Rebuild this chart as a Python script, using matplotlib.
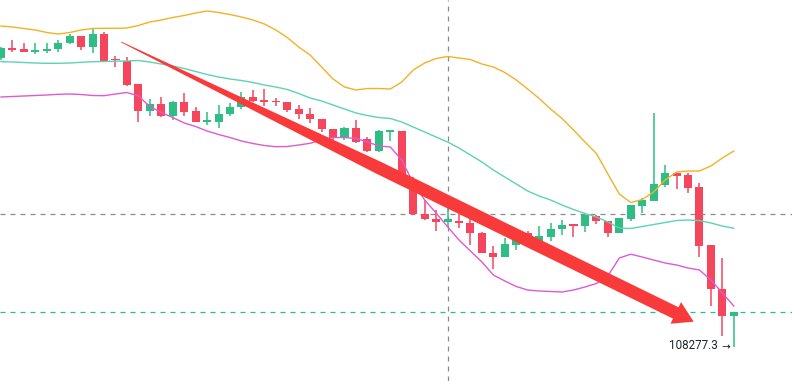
import matplotlib
matplotlib.use('Agg')
import matplotlib.pyplot as plt
from matplotlib.patches import Rectangle, Polygon
from matplotlib.transforms import IdentityTransform
import numpy as np

# OHLC of the visible candles
opens = [111164, 111267, 111257, 111227, 111234, 111251, 111311, 111384, 111277, 111404,
         111154, 111134, 110904, 110637, 110704, 110587, 110721, 110637, 110527, 110527,
         110601, 110671, 110771, 110744, 110737, 110721, 110654, 110604, 110554, 110454,
         110377, 110461, 110351, 110237, 110427, 110437, 109904, 109601, 109554, 109524,
         109537, 109514, 109414, 109214, 109171, 109294, 109414, 109311, 109377, 109451,
         109504, 109484, 109584, 109537, 109417, 109554, 109684, 109737, 109894, 110011,
         109994, 109871, 109294, 108851, 108584]
highs = [111277, 111344, 111311, 111311, 111311, 111344, 111401, 111384, 111454, 111421,
         111187, 111171, 110904, 110754, 110774, 110734, 110811, 110671, 110621, 110694,
         110711, 110821, 110844, 110854, 110761, 110721, 110694, 110661, 110554, 110454,
         110471, 110544, 110374, 110444, 110444, 110437, 109977, 109744, 109644, 109679,
         109639, 109579, 109424, 109284, 109361, 109427, 109437, 109484, 109514, 109544,
         109504, 109594, 109594, 109537, 109561, 109694, 109761, 110617, 110094, 110017,
         110017, 109911, 109294, 109161, 108624]
lows = [111144, 111227, 111221, 111201, 111211, 111221, 111304, 111244, 111211, 111137,
        111071, 110887, 110524, 110584, 110574, 110544, 110587, 110527, 110494, 110461,
        110587, 110654, 110727, 110687, 110687, 110621, 110554, 110517, 110421, 110344,
        110344, 110311, 110224, 110221, 110337, 109884, 109594, 109544, 109434, 109469,
        109461, 109289, 109211, 109056, 109171, 109239, 109344, 109304, 109337, 109394,
        109377, 109427, 109504, 109377, 109417, 109537, 109611, 109737, 109871, 109851,
        109811, 109177, 108684, 108384, 108277.3]
closes = [111264, 111244, 111221, 111244, 111254, 111311, 111384, 111277, 111404, 111137,
          111141, 110894, 110637, 110704, 110587, 110721, 110621, 110527, 110544, 110604,
          110671, 110771, 110737, 110721, 110721, 110644, 110601, 110551, 110451, 110361,
          110461, 110327, 110237, 110437, 110444, 109904, 109601, 109551, 109519, 109549,
          109509, 109411, 109211, 109177, 109302, 109364, 109384, 109384, 109457, 109494,
          109484, 109594, 109529, 109417, 109561, 109694, 109744, 109904, 110017, 109984,
          109861, 109287, 108851, 108587, 108624]

# Bollinger bands
boll_up = [111484, 111474, 111459, 111444, 111419, 111404, 111419, 111444, 111459, 111461,
           111461, 111464, 111489, 111524, 111544, 111569, 111589, 111614, 111634, 111619,
           111599, 111574, 111544, 111504, 111444, 111369, 111274, 111194, 111074, 110954,
           110874, 110844, 110859, 110859, 110854, 110924, 111044, 111114, 111159, 111179,
           111164, 111149, 111104, 111074, 111019, 110944, 110854, 110759, 110654, 110559,
           110444, 110324, 110209, 110004, 109804, 109719, 109749, 109824, 109944, 110024,
           110034, 110034, 110084, 110164, 110234]
boll_mid = [111127, 111124, 111119, 111114, 111111, 111111, 111114, 111121, 111127, 111129,
            111132, 111134, 111139, 111124, 111104, 111084, 111059, 111029, 110999, 110974,
            110954, 110939, 110919, 110894, 110874, 110849, 110809, 110764, 110734, 110694,
            110654, 110614, 110589, 110569, 110559, 110524, 110474, 110424, 110374, 110324,
            110264, 110194, 110124, 110044, 109974, 109904, 109834, 109784, 109744, 109694,
            109649, 109609, 109574, 109524, 109464, 109459, 109479, 109499, 109519, 109539,
            109544, 109539, 109514, 109484, 109461]
boll_dn = [110774, 110779, 110784, 110789, 110794, 110801, 110804, 110799, 110789, 110787,
           110804, 110819, 110784, 110679, 110619, 110569, 110514, 110479, 110434, 110399,
           110369, 110334, 110309, 110289, 110277, 110279, 110294, 110311, 110344, 110369,
           110369, 110359, 110324, 110284, 110274, 110144, 109914, 109744, 109614, 109477,
           109344, 109234, 109124, 108994, 108934, 108879, 108844, 108834, 108829, 108824,
           108844, 108874, 108909, 108984, 109164, 109202, 109174, 109144, 109114, 109094,
           109064, 109044, 108944, 108814, 108684]

# crosshair and drawn arrow (candle index, price)
cross_idx = 39
cross_price = 109604
arrow_start = (10.5, 111324)
arrow_tip = (60.5, 108527)

GREEN = '#2EBD85'
RED = '#F6465D'

fig = plt.figure(figsize=(7.92, 3.81), dpi=100)
ax = fig.add_axes([0, 0, 1, 1])
ax.set_xlim(-1 / 11.45, 791 / 11.45)
ax.set_ylim(107934, 111744)
ax.axis('off')

x = np.arange(len(opens))

# crosshair
ax.axvline(cross_idx, color='#8a8a8a', lw=0.9, ls=(0, (4, 4)), zorder=1)
ax.axhline(cross_price, color='#8a8a8a', lw=0.9, ls=(0, (4, 4)), zorder=1)
# last price line
ax.axhline(closes[-1], color=GREEN, lw=0.9, ls=(0, (4, 4)), zorder=1)

# candles
for i in x:
    o, h, l, c = opens[i], highs[i], lows[i], closes[i]
    col = GREEN if c >= o else RED
    ax.vlines(i, l, h, color=col, lw=1.1, zorder=2)
    body = max(abs(c - o), 12)
    ax.add_patch(Rectangle((i - 0.35, min(o, c)), 0.7, body, facecolor=col,
                           edgecolor='none', zorder=3))

# bands
ax.plot(x, boll_up, color='#F2B226', lw=1.0, zorder=4)
ax.plot(x, boll_mid, color='#5CD3B2', lw=1.0, zorder=4)
ax.plot(x, boll_dn, color='#E05ACF', lw=1.0, zorder=4)

# lowest price marker
ax.annotate('108277.3', xy=(x[-1], lows[-1]), xytext=(-16, 1), textcoords='offset pixels',
            ha='right', va='center', fontsize=8.4, family=['Roboto', 'DejaVu Sans'],
            color='#1E2329', zorder=6)
ax.annotate('→', xy=(x[-1], lows[-1]), xytext=(-8, -1), textcoords='offset pixels',
            ha='center', va='center', fontsize=7.5, family=['DejaVu Sans'],
            color='#1E2329', zorder=6)

# hand drawn red arrow, tapered shaft, built in pixel space
S = ax.transData.transform(arrow_start)
T = ax.transData.transform(arrow_tip)
d = T - S
L = np.hypot(d[0], d[1])
u = d / L
n = np.array([-u[1], u[0]])
head_len = 20
head_half = 12
shaft_half = 6.3
B = T - u * head_len
P = S + u * (0.45 * L)
pts = [S + n * 0.4, P + n * shaft_half, B + n * shaft_half, B + n * head_half, T,
       B - n * head_half, B - n * shaft_half, P - n * shaft_half, S - n * 0.4]
ax.add_patch(Polygon(pts, closed=True, facecolor='#F93A3A', edgecolor='none',
                     transform=IdentityTransform(), zorder=5))

fig.savefig('out.png', dpi=100, facecolor='white')
